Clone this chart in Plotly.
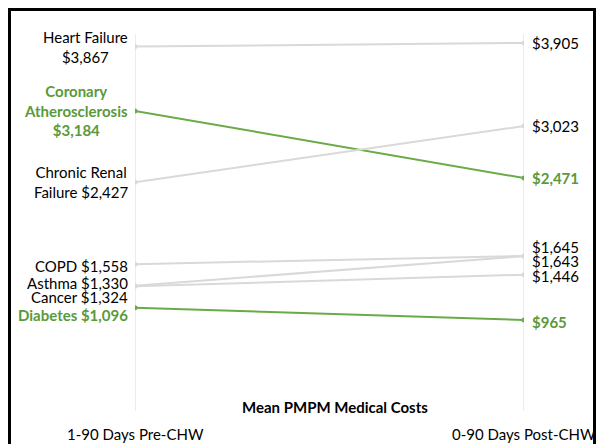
import plotly.graph_objects as go

# ---- data ----
periods = ["1-90 Days Pre-CHW", "0-90 Days Post-CHW"]
conditions = ["Heart Failure", "Coronary Atherosclerosis", "Chronic Renal Failure",
              "COPD", "Asthma", "Cancer", "Diabetes"]
left_names = ["Heart Failure<br>", "Coronary<br>Atherosclerosis<br>", "Chronic Renal<br>Failure ",
              "COPD ", "Asthma ", "Cancer ", "Diabetes "]
pre_costs = [3867, 3184, 2427, 1558, 1330, 1324, 1096]
post_costs = [3905, 2471, 3023, 1645, 1643, 1446, 965]
highlight = [False, True, False, False, False, False, True]
title_text = "Mean PMPM Medical Costs"

# label nudges (pixels) to avoid overlaps
left_shift = [0, 0, 0, -2, 3, -11, -7]
right_shift = [0, 0, 0, 9, -5, -1, -2]

GREEN_LINE = "#6AAB47"
GREEN_TEXT = "#5A9A3A"
GRAY = "#D9D9D9"
FONT = "Lato, Carlito, Calibri, sans-serif"
FS = 15

W, H = 596, 444
ML, MR, MT, MB = 135, 72, 34, 33
PW, PH = W - ML - MR, H - MT - MB

fig = go.Figure()
xs = [0, 1]
for name, a, b, hl in zip(conditions, pre_costs, post_costs, highlight):
    c = GREEN_LINE if hl else GRAY
    fig.add_trace(go.Scatter(x=xs, y=[a, b], mode="lines+markers", name=name,
                             line=dict(color=c, width=2), marker=dict(color=c, size=5),
                             showlegend=False, hoverinfo="skip"))

annotations = []
for nm, a, b, hl, ls, rs in zip(left_names, pre_costs, post_costs, highlight, left_shift, right_shift):
    tc = GREEN_TEXT if hl else "#000000"
    va = f"${a:,}"
    vb = f"${b:,}"
    lt = nm + va
    rt = vb
    if hl:
        lt = "<b>" + lt.replace("<br>", "</b><br><b>") + "</b>"
        rt = "<b>" + rt + "</b>"
    annotations.append(dict(x=0, y=a, xref="x", yref="y", text=lt, showarrow=False,
                            xanchor="right", yanchor="middle", align="center",
                            xshift=-5, yshift=ls, font=dict(color=tc, size=FS, family=FONT)))
    annotations.append(dict(x=1, y=b, xref="x", yref="y", text=rt, showarrow=False,
                            xanchor="left", yanchor="middle", align="left",
                            xshift=6, yshift=rs, font=dict(color=tc, size=FS, family=FONT)))

for i, p in enumerate(periods):
    annotations.append(dict(x=i, y=0, xref="x", yref="paper", text=p, showarrow=False,
                            xanchor="center", yanchor="middle", yshift=-23,
                            font=dict(color="#000000", size=FS, family=FONT)))

annotations.append(dict(x=(335 - ML) / PW, y=0, xref="paper", yref="paper",
                        text=f"<b>{title_text}</b>", showarrow=False,
                        xanchor="center", yanchor="middle", yshift=4,
                        font=dict(color="#000000", size=FS, family=FONT)))

shapes = []
for i in range(len(periods)):
    shapes.append(dict(type="line", x0=i, x1=i, y0=0, y1=1, xref="x", yref="paper",
                       line=dict(color="#E6E6E6", width=1.5), layer="below"))
# outer frame
shapes.append(dict(type="rect", xref="paper", yref="paper",
                   x0=(9.5 - ML) / PW, x1=(594.5 - ML) / PW,
                   y0=(H - MB - 460) / PH, y1=(H - MB - 9.5) / PH,
                   line=dict(color="#000000", width=3), fillcolor="rgba(0,0,0,0)"))

fig.update_layout(
    width=W, height=H,
    margin=dict(l=ML, r=MR, t=MT, b=MB),
    paper_bgcolor="white", plot_bgcolor="white",
    xaxis=dict(range=[0, 1], visible=False, fixedrange=True),
    yaxis=dict(range=[0, 4000], visible=False, fixedrange=True),
    annotations=annotations, shapes=shapes,
    font=dict(family=FONT, size=FS),
)

fig.write_html("out.html", config={"displayModeBar": False},
               post_script="document.body.style.margin='0';document.body.style.overflow='hidden';")
